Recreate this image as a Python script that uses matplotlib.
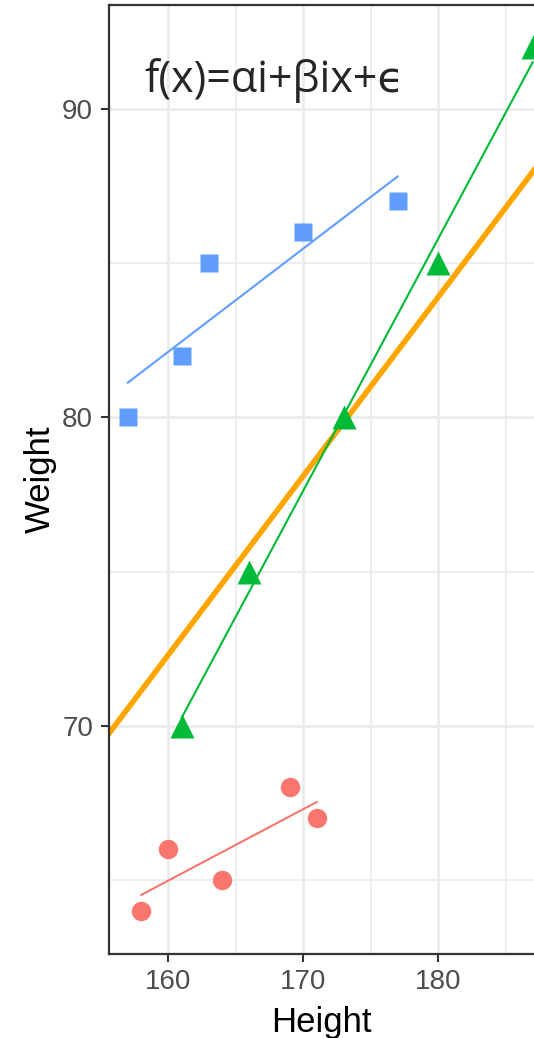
import numpy as np
import matplotlib
matplotlib.use('Agg')
import matplotlib.pyplot as plt
from matplotlib.ticker import MultipleLocator

# data per group
red_x = [158, 160, 164, 169, 171]
red_y = [64, 66, 65, 68, 67]
green_x = [161, 166, 173, 180, 187]
green_y = [70, 75, 80, 85, 92]
blue_x = [157, 161, 163, 170, 177]
blue_y = [80, 82, 85, 86, 87]

# reference line (orange)
line_intercept = -20.5
line_slope = 0.58

formula = 'f(x)=αi+βix+ϵ'

groups = [
    (red_x, red_y, '#F8766D', 'o', 14),
    (green_x, green_y, '#00BA38', '^', 17),
    (blue_x, blue_y, '#619CFF', 's', 13),
]

fig = plt.figure(figsize=(5.34, 10.38), dpi=100)
ax = fig.add_axes([0.2032, 0.0809, 1 - 0.2032, 0.9952 - 0.0809])

ax.set_xlim(155.57, 187.1)
ax.set_ylim(62.6, 93.37)

# grid like theme_bw
ax.xaxis.set_major_locator(MultipleLocator(10))
ax.xaxis.set_minor_locator(MultipleLocator(5))
ax.yaxis.set_major_locator(MultipleLocator(10))
ax.yaxis.set_minor_locator(MultipleLocator(5))
ax.grid(which='major', color='#EBEBEB', lw=2.0, zorder=0)
ax.grid(which='minor', color='#EBEBEB', lw=1.2, zorder=0)
ax.set_axisbelow(True)
ax.tick_params(which='minor', length=0)
ax.tick_params(which='major', length=6, width=1.5, color='#333333',
               labelcolor='#4D4D4D', labelsize=20, pad=5)

for side in ['left', 'bottom', 'top']:
    ax.spines[side].set_color('#333333')
    ax.spines[side].set_linewidth(1.6)
ax.spines['right'].set_visible(False)

# orange line
ax.axline((0, line_intercept), slope=line_slope, color='#FFA500', lw=4, zorder=2)

# per group lm fits and points
for gx, gy, col, mk, ms in groups:
    gx = np.array(gx)
    gy = np.array(gy)
    k, b = np.polyfit(gx, gy, 1)
    xs = np.array([gx.min(), gx.max()])
    ax.plot(xs, k * xs + b, color=col, lw=1.5, zorder=3)
    ax.plot(gx, gy, ls='none', marker=mk, ms=ms, color=col, mec='none', zorder=4)

ax.text(0.39, 0.92, formula, transform=ax.transAxes, ha='center', va='center',
        fontsize=31, color='#262626', family=['Open Sans', 'DejaVu Sans'])

ax.set_xlabel('Height', fontsize=25, color='black', labelpad=8, family='Liberation Sans')
ax.set_ylabel('Weight', fontsize=25, color='black', labelpad=4, family='Liberation Sans')
for lbl in ax.get_xticklabels() + ax.get_yticklabels():
    lbl.set_family('Liberation Sans')

fig.savefig('out.png', dpi=100)
